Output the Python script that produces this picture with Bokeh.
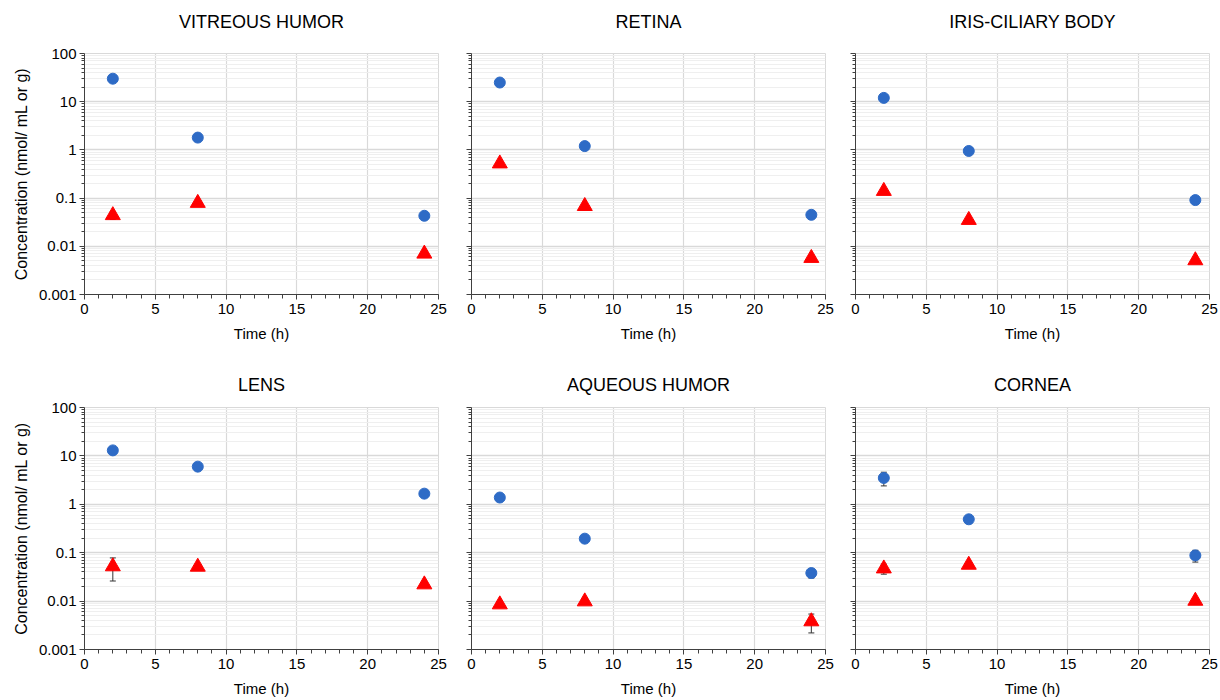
from bokeh.plotting import figure
from bokeh.layouts import column, row
from bokeh.models import (FixedTicker, CustomJSTickFormatter, Whisker, ColumnDataSource,
                          Range1d, TeeHead, Title)
from bokeh.embed import file_html
from bokeh.resources import INLINE

# ---------------- data ----------------
times = [2, 8, 24]
titles = ["VITREOUS HUMOR", "RETINA", "IRIS-CILIARY BODY", "LENS", "AQUEOUS HUMOR", "CORNEA"]

blue_vals = {
    "VITREOUS HUMOR":    [30.0, 1.8, 0.043],
    "RETINA":            [25.0, 1.2, 0.045],
    "IRIS-CILIARY BODY": [12.0, 0.95, 0.091],
    "LENS":              [13.0, 6.0, 1.66],
    "AQUEOUS HUMOR":     [1.38, 0.195, 0.038],
    "CORNEA":            [3.5, 0.49, 0.088],
}
blue_err = {
    "VITREOUS HUMOR":    [2.0, 0.15, 0.003],
    "RETINA":            [2.0, 0.10, 0.004],
    "IRIS-CILIARY BODY": [1.0, 0.05, 0.007],
    "LENS":              [1.5, 0.4, 0.12],
    "AQUEOUS HUMOR":     [0.10, 0.015, 0.008],
    "CORNEA":            [1.1, 0.09, 0.024],
}
red_vals = {
    "VITREOUS HUMOR":    [0.044, 0.079, 0.0070],
    "RETINA":            [0.52, 0.068, 0.0057],
    "IRIS-CILIARY BODY": [0.14, 0.035, 0.0051],
    "LENS":              [0.052, 0.051, 0.022],
    "AQUEOUS HUMOR":     [0.0085, 0.0098, 0.0038],
    "CORNEA":            [0.047, 0.056, 0.0101],
}
red_err = {
    "VITREOUS HUMOR":    [0.008, 0.008, 0.0008],
    "RETINA":            [0.05, 0.007, 0.0008],
    "IRIS-CILIARY BODY": [0.012, 0.004, 0.0005],
    "LENS":              [0.026, 0.006, 0.002],
    "AQUEOUS HUMOR":     [0.0007, 0.0012, 0.0016],
    "CORNEA":            [0.011, 0.008, 0.0009],
}

y_label = "Concentration (nmol/ mL or g)"
x_label = "Time (h)"

BLUE = "#2E6BC6"
RED = "#FF0000"
FONT = "Liberation Sans"

major_y = [10.0 ** k for k in range(-3, 3)]
minor_y = [m * 10.0 ** k for k in range(-3, 2) for m in range(2, 10)]

FRAME_W = 354


def make_panel(name, col, row_i):
    left = [84, 17, 17][col]
    right = [16, 13, 10][col]
    top = 53
    fh = 241 if row_i == 0 else 242
    bottom = 60 if row_i == 0 else 51
    w = left + FRAME_W + right
    h = top + fh + bottom
    p = figure(width=w, height=h, y_axis_type="log", output_backend="svg",
               toolbar_location=None, x_range=Range1d(0, 25), y_range=Range1d(0.001, 100),
               min_border_left=left, min_border_right=right, min_border_top=top,
               min_border_bottom=bottom)

    # panel title (top row: a blank spacer sits between the frame and the title)
    if row_i == 0:
        p.add_layout(Title(text=" ", text_font_size="2px", standoff=13), "above")
        t_standoff = 10
    else:
        t_standoff = 26
    p.add_layout(Title(text=name, align="center", text_font=FONT, text_font_size="18px",
                       text_font_style="normal", text_color="#000000",
                       standoff=t_standoff), "above")

    p.outline_line_color = "#D9D9D9"
    p.background_fill_color = "white"
    p.border_fill_color = "white"

    # x axis
    p.xaxis.ticker = FixedTicker(ticks=[0, 5, 10, 15, 20, 25], minor_ticks=list(range(0, 26)))
    p.xaxis.axis_label = x_label
    p.xaxis.axis_label_text_font = FONT
    p.xaxis.axis_label_text_font_size = "15px"
    p.xaxis.axis_label_text_font_style = "normal"
    p.xaxis.axis_label_text_color = "#000000"
    p.xaxis.axis_label_standoff = 8
    p.xaxis.major_label_text_font = FONT
    p.xaxis.major_label_text_font_size = "15px"
    p.xaxis.major_label_text_color = "#000000"
    p.xaxis.major_label_standoff = 4
    p.xaxis.major_tick_in = 0
    p.xaxis.major_tick_out = 5
    p.xaxis.minor_tick_in = 0
    p.xaxis.minor_tick_out = 4
    p.xaxis.axis_line_color = "#404040"
    p.xaxis.major_tick_line_color = "#404040"
    p.xaxis.minor_tick_line_color = "#404040"

    # y axis
    p.yaxis.ticker = FixedTicker(ticks=major_y, minor_ticks=minor_y)
    p.yaxis.major_tick_in = 0
    p.yaxis.major_tick_out = 5
    p.yaxis.minor_tick_in = 0
    p.yaxis.minor_tick_out = 3
    p.yaxis.axis_line_color = "#404040"
    p.yaxis.major_tick_line_color = "#404040"
    p.yaxis.minor_tick_line_color = "#404040"
    if col == 0:
        p.yaxis.formatter = CustomJSTickFormatter(code="""
            const e = Math.round(Math.log10(tick));
            return e < 0 ? tick.toFixed(-e) : tick.toFixed(0);
        """)
        p.yaxis.axis_label = y_label
        p.yaxis.axis_label_text_font = FONT
        p.yaxis.axis_label_text_font_size = "16px"
        p.yaxis.axis_label_text_font_style = "normal"
        p.yaxis.axis_label_text_color = "#000000"
        p.yaxis.axis_label_standoff = 6
        p.yaxis.major_label_text_font = FONT
        p.yaxis.major_label_text_font_size = "15px"
        p.yaxis.major_label_text_color = "#000000"
        p.yaxis.major_label_standoff = 3
    else:
        p.yaxis.formatter = CustomJSTickFormatter(code="return '';")
        p.yaxis.major_label_standoff = 0

    # grids
    p.xgrid.grid_line_color = "#D9D9D9"
    p.xgrid.grid_line_width = 1.2
    p.ygrid.grid_line_color = "#D9D9D9"
    p.ygrid.grid_line_width = 1.5
    p.ygrid.minor_grid_line_color = "#EFEFEF"
    p.ygrid.minor_grid_line_width = 1

    bv, be = blue_vals[name], blue_err[name]
    rv, re_ = red_vals[name], red_err[name]
    bsrc = ColumnDataSource(dict(t=times, v=bv,
                                 lo=[v - e for v, e in zip(bv, be)],
                                 hi=[v + e for v, e in zip(bv, be)]))
    rsrc = ColumnDataSource(dict(t=times, v=rv,
                                 lo=[v - e for v, e in zip(rv, re_)],
                                 hi=[v + e for v, e in zip(rv, re_)]))
    for src in (bsrc, rsrc):
        wk = Whisker(base="t", lower="lo", upper="hi", source=src,
                     line_color="#333333", line_width=1,
                     upper_head=TeeHead(size=6, line_color="#333333", line_width=1),
                     lower_head=TeeHead(size=6, line_color="#333333", line_width=1))
        wk.level = "underlay"
        p.add_layout(wk)

    p.scatter("t", "v", source=bsrc, marker="circle", size=11,
              fill_color=BLUE, line_color=BLUE)
    p.scatter("t", "v", source=rsrc, marker="triangle", size=15,
              fill_color=RED, line_color=RED)
    return p


panels = []
for i, name in enumerate(titles):
    panels.append(make_panel(name, i % 3, i // 3))

layout = column(row(*panels[0:3], spacing=0), row(*panels[3:6], spacing=0), spacing=0)

html = file_html(layout, INLINE)
with open("out.html", "w") as f:
    f.write(html)
